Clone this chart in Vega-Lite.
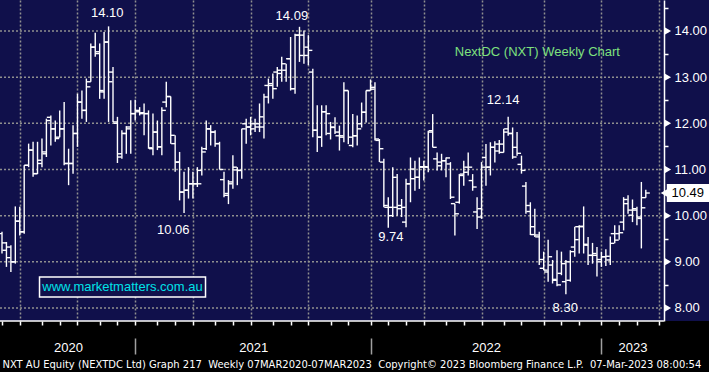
{
  "$schema": "https://vega.github.io/schema/vega-lite/v6.json",
  "width": 709,
  "height": 321,
  "autosize": {"type": "none"},
  "padding": {"left": 0, "top": 0, "right": 0, "bottom": 51},
  "background": "#000000",
  "config": {"view": {"fill": "#10104b", "stroke": null}},
  "datasets": {
    "ohlc": [
      {"d":"2020-05-29","o":9.61,"h":9.65,"l":9.18,"c":9.41},
      {"d":"2020-06-05","o":9.25,"h":9.43,"l":8.89,"c":9.09},
      {"d":"2020-06-12","o":9.32,"h":9.36,"l":8.78,"c":9.00},
      {"d":"2020-06-19","o":9.00,"h":10.20,"l":8.96,"c":9.88},
      {"d":"2020-06-26","o":9.88,"h":10.19,"l":9.57,"c":9.65},
      {"d":"2020-07-03","o":9.65,"h":11.09,"l":9.61,"c":11.09},
      {"d":"2020-07-10","o":11.09,"h":11.56,"l":11.05,"c":11.42},
      {"d":"2020-07-17","o":11.42,"h":11.60,"l":10.84,"c":10.91},
      {"d":"2020-07-24","o":10.91,"h":11.60,"l":10.90,"c":11.20},
      {"d":"2020-07-31","o":11.13,"h":11.67,"l":11.05,"c":11.38},
      {"d":"2020-08-07","o":11.34,"h":12.10,"l":11.27,"c":12.06},
      {"d":"2020-08-14","o":12.13,"h":12.17,"l":11.52,"c":11.88},
      {"d":"2020-08-21","o":11.88,"h":12.06,"l":11.60,"c":11.67},
      {"d":"2020-08-28","o":11.70,"h":12.28,"l":11.70,"c":11.88},
      {"d":"2020-09-04","o":11.88,"h":12.46,"l":11.09,"c":11.13},
      {"d":"2020-09-11","o":11.13,"h":11.45,"l":10.66,"c":11.13},
      {"d":"2020-09-18","o":11.13,"h":11.96,"l":10.91,"c":11.78},
      {"d":"2020-09-25","o":11.78,"h":12.64,"l":11.49,"c":12.46},
      {"d":"2020-10-02","o":12.46,"h":12.71,"l":12.10,"c":12.28},
      {"d":"2020-10-09","o":12.28,"h":12.97,"l":12.03,"c":12.79},
      {"d":"2020-10-16","o":12.90,"h":13.73,"l":12.90,"c":13.65},
      {"d":"2020-10-23","o":13.65,"h":13.96,"l":13.44,"c":13.51},
      {"d":"2020-10-30","o":13.55,"h":13.73,"l":12.53,"c":12.71},
      {"d":"2020-11-06","o":12.68,"h":13.98,"l":12.53,"c":13.76},
      {"d":"2020-11-13","o":13.76,"h":14.10,"l":12.03,"c":12.90},
      {"d":"2020-11-20","o":13.11,"h":13.22,"l":12.03,"c":12.03},
      {"d":"2020-11-27","o":12.00,"h":12.14,"l":11.14,"c":11.27},
      {"d":"2020-12-04","o":11.34,"h":11.85,"l":11.23,"c":11.78},
      {"d":"2020-12-11","o":11.78,"h":11.94,"l":11.34,"c":11.88},
      {"d":"2020-12-18","o":11.92,"h":12.50,"l":11.34,"c":12.21},
      {"d":"2020-12-25","o":12.21,"h":12.51,"l":12.06,"c":12.28},
      {"d":"2021-01-01","o":12.25,"h":12.35,"l":12.17,"c":12.21},
      {"d":"2021-01-08","o":12.23,"h":12.43,"l":11.74,"c":12.21},
      {"d":"2021-01-15","o":12.21,"h":12.28,"l":11.45,"c":11.47},
      {"d":"2021-01-22","o":11.45,"h":12.21,"l":11.31,"c":11.81},
      {"d":"2021-01-29","o":11.81,"h":12.06,"l":11.42,"c":11.49},
      {"d":"2021-02-05","o":11.49,"h":12.35,"l":11.31,"c":12.28},
      {"d":"2021-02-12","o":12.46,"h":12.90,"l":12.35,"c":12.58},
      {"d":"2021-02-19","o":12.58,"h":12.58,"l":11.56,"c":11.74},
      {"d":"2021-02-26","o":11.56,"h":11.74,"l":10.95,"c":11.16},
      {"d":"2021-03-05","o":11.16,"h":11.38,"l":10.33,"c":10.51},
      {"d":"2021-03-12","o":10.51,"h":10.95,"l":10.06,"c":10.55},
      {"d":"2021-03-19","o":10.55,"h":11.05,"l":10.37,"c":10.69},
      {"d":"2021-03-26","o":10.69,"h":10.95,"l":10.37,"c":10.69},
      {"d":"2021-04-02","o":10.69,"h":11.05,"l":10.62,"c":10.69},
      {"d":"2021-04-09","o":10.98,"h":11.49,"l":10.87,"c":11.38},
      {"d":"2021-04-16","o":11.45,"h":12.06,"l":11.42,"c":11.88},
      {"d":"2021-04-23","o":11.88,"h":11.96,"l":11.52,"c":11.81},
      {"d":"2021-04-30","o":11.81,"h":11.85,"l":11.49,"c":11.56},
      {"d":"2021-05-07","o":11.56,"h":11.60,"l":11.00,"c":11.00},
      {"d":"2021-05-14","o":10.78,"h":10.95,"l":10.40,"c":10.44},
      {"d":"2021-05-21","o":10.48,"h":10.77,"l":10.25,"c":10.69},
      {"d":"2021-05-28","o":10.73,"h":11.31,"l":10.58,"c":11.05},
      {"d":"2021-06-04","o":10.99,"h":11.05,"l":10.66,"c":10.98},
      {"d":"2021-06-11","o":10.98,"h":11.88,"l":10.80,"c":11.88},
      {"d":"2021-06-18","o":11.99,"h":12.10,"l":11.56,"c":11.92},
      {"d":"2021-06-25","o":11.92,"h":12.14,"l":11.74,"c":11.88},
      {"d":"2021-07-02","o":11.99,"h":12.10,"l":11.81,"c":11.92},
      {"d":"2021-07-09","o":11.99,"h":12.43,"l":11.81,"c":12.14},
      {"d":"2021-07-16","o":11.92,"h":12.64,"l":11.67,"c":12.57},
      {"d":"2021-07-23","o":12.82,"h":12.97,"l":12.43,"c":12.86},
      {"d":"2021-07-30","o":12.82,"h":13.08,"l":12.53,"c":12.75},
      {"d":"2021-08-06","o":13.11,"h":13.22,"l":12.79,"c":13.15},
      {"d":"2021-08-13","o":13.08,"h":13.44,"l":12.90,"c":13.29},
      {"d":"2021-08-20","o":13.15,"h":13.29,"l":12.90,"c":13.40},
      {"d":"2021-08-27","o":13.40,"h":13.87,"l":12.71,"c":12.75},
      {"d":"2021-09-03","o":12.75,"h":13.94,"l":12.64,"c":13.91},
      {"d":"2021-09-10","o":13.91,"h":14.09,"l":13.33,"c":13.47},
      {"d":"2021-09-17","o":13.91,"h":14.01,"l":13.29,"c":13.47},
      {"d":"2021-09-24","o":13.65,"h":13.91,"l":13.26,"c":13.58},
      {"d":"2021-10-01","o":13.11,"h":13.18,"l":11.70,"c":11.85},
      {"d":"2021-10-08","o":11.85,"h":12.39,"l":11.38,"c":11.70},
      {"d":"2021-10-15","o":11.70,"h":12.39,"l":11.49,"c":12.25},
      {"d":"2021-10-22","o":12.25,"h":12.39,"l":11.74,"c":12.21},
      {"d":"2021-10-29","o":11.78,"h":12.03,"l":11.65,"c":11.92},
      {"d":"2021-11-05","o":11.91,"h":12.13,"l":11.77,"c":11.81},
      {"d":"2021-11-12","o":11.73,"h":11.95,"l":11.41,"c":11.73},
      {"d":"2021-11-19","o":11.70,"h":12.89,"l":11.59,"c":12.71},
      {"d":"2021-11-26","o":12.71,"h":12.71,"l":11.55,"c":11.70},
      {"d":"2021-12-03","o":11.52,"h":12.20,"l":11.48,"c":11.73},
      {"d":"2021-12-10","o":11.73,"h":12.17,"l":11.52,"c":11.88},
      {"d":"2021-12-17","o":11.99,"h":12.45,"l":11.91,"c":12.24},
      {"d":"2021-12-24","o":12.24,"h":12.71,"l":12.02,"c":12.71},
      {"d":"2021-12-31","o":12.71,"h":12.95,"l":12.71,"c":12.74},
      {"d":"2022-01-07","o":12.78,"h":12.89,"l":11.63,"c":11.66},
      {"d":"2022-01-14","o":11.63,"h":11.66,"l":11.16,"c":11.45},
      {"d":"2022-01-21","o":11.16,"h":11.23,"l":10.18,"c":10.22},
      {"d":"2022-01-28","o":10.18,"h":10.40,"l":9.74,"c":10.00},
      {"d":"2022-02-04","o":10.18,"h":11.05,"l":9.97,"c":10.83},
      {"d":"2022-02-11","o":10.18,"h":10.90,"l":10.00,"c":10.15},
      {"d":"2022-02-18","o":10.22,"h":10.36,"l":9.97,"c":10.18},
      {"d":"2022-02-25","o":9.86,"h":10.80,"l":9.75,"c":10.69},
      {"d":"2022-03-04","o":10.69,"h":11.26,"l":10.29,"c":11.01},
      {"d":"2022-03-11","o":10.80,"h":11.19,"l":10.54,"c":10.83},
      {"d":"2022-03-18","o":10.83,"h":11.26,"l":10.58,"c":11.05},
      {"d":"2022-03-25","o":11.06,"h":11.19,"l":10.76,"c":11.06},
      {"d":"2022-04-01","o":11.05,"h":11.84,"l":10.94,"c":11.81},
      {"d":"2022-04-08","o":11.84,"h":12.20,"l":11.48,"c":11.48},
      {"d":"2022-04-15","o":11.23,"h":11.37,"l":10.98,"c":11.16},
      {"d":"2022-04-22","o":11.08,"h":11.34,"l":10.98,"c":11.19},
      {"d":"2022-04-29","o":11.19,"h":11.26,"l":10.83,"c":11.25},
      {"d":"2022-05-06","o":11.12,"h":11.16,"l":10.36,"c":10.40},
      {"d":"2022-05-13","o":10.26,"h":10.26,"l":9.57,"c":10.04},
      {"d":"2022-05-20","o":10.29,"h":10.90,"l":10.26,"c":10.87},
      {"d":"2022-05-27","o":10.90,"h":11.19,"l":10.65,"c":10.94},
      {"d":"2022-06-03","o":11.05,"h":11.37,"l":10.87,"c":11.05},
      {"d":"2022-06-10","o":10.76,"h":10.90,"l":10.54,"c":10.62},
      {"d":"2022-06-17","o":10.08,"h":10.40,"l":9.71,"c":9.97},
      {"d":"2022-06-24","o":10.15,"h":11.16,"l":9.93,"c":11.05},
      {"d":"2022-07-01","o":11.26,"h":11.55,"l":10.65,"c":11.05},
      {"d":"2022-07-08","o":11.05,"h":11.59,"l":10.87,"c":11.48},
      {"d":"2022-07-15","o":11.48,"h":11.61,"l":11.15,"c":11.40},
      {"d":"2022-07-22","o":11.55,"h":11.64,"l":11.34,"c":11.55},
      {"d":"2022-07-29","o":11.37,"h":11.88,"l":11.37,"c":11.81},
      {"d":"2022-08-05","o":11.88,"h":12.14,"l":11.73,"c":11.78},
      {"d":"2022-08-12","o":11.78,"h":11.91,"l":11.23,"c":11.27},
      {"d":"2022-08-19","o":11.48,"h":11.81,"l":11.30,"c":11.35},
      {"d":"2022-08-26","o":11.11,"h":11.30,"l":10.91,"c":10.98},
      {"d":"2022-09-02","o":10.64,"h":10.73,"l":10.04,"c":10.22},
      {"d":"2022-09-09","o":10.09,"h":10.29,"l":9.58,"c":9.59},
      {"d":"2022-09-16","o":9.76,"h":10.15,"l":9.54,"c":9.58},
      {"d":"2022-09-23","o":9.54,"h":9.65,"l":8.93,"c":9.05},
      {"d":"2022-09-30","o":8.86,"h":9.22,"l":8.82,"c":8.82},
      {"d":"2022-10-07","o":8.78,"h":9.48,"l":8.57,"c":9.11},
      {"d":"2022-10-14","o":8.93,"h":9.04,"l":8.53,"c":8.62},
      {"d":"2022-10-21","o":8.60,"h":9.25,"l":8.47,"c":8.50},
      {"d":"2022-10-28","o":8.75,"h":9.22,"l":8.71,"c":8.96},
      {"d":"2022-11-04","o":8.57,"h":9.04,"l":8.30,"c":9.00},
      {"d":"2022-11-11","o":8.60,"h":9.25,"l":8.57,"c":9.22},
      {"d":"2022-11-18","o":9.32,"h":9.76,"l":9.11,"c":9.48},
      {"d":"2022-11-25","o":9.76,"h":9.79,"l":9.18,"c":9.77},
      {"d":"2022-12-02","o":9.76,"h":10.20,"l":9.18,"c":9.38},
      {"d":"2022-12-09","o":9.36,"h":9.54,"l":8.93,"c":9.14},
      {"d":"2022-12-16","o":9.14,"h":9.41,"l":8.96,"c":9.18},
      {"d":"2022-12-23","o":9.14,"h":9.32,"l":8.68,"c":9.05},
      {"d":"2022-12-30","o":9.00,"h":9.22,"l":8.89,"c":9.11},
      {"d":"2023-01-06","o":9.11,"h":9.27,"l":8.91,"c":9.12},
      {"d":"2023-01-13","o":9.04,"h":9.55,"l":8.93,"c":9.40},
      {"d":"2023-01-20","o":9.61,"h":9.79,"l":9.40,"c":9.47},
      {"d":"2023-01-27","o":9.61,"h":9.79,"l":9.48,"c":9.63},
      {"d":"2023-02-03","o":9.86,"h":10.40,"l":9.68,"c":10.35},
      {"d":"2023-02-10","o":10.26,"h":10.44,"l":10.04,"c":10.12},
      {"d":"2023-02-17","o":10.01,"h":10.35,"l":9.86,"c":10.15},
      {"d":"2023-02-24","o":10.12,"h":10.19,"l":9.79,"c":9.97},
      {"d":"2023-03-03","o":9.94,"h":10.73,"l":9.29,"c":10.17},
      {"d":"2023-03-10","o":10.39,"h":10.56,"l":10.39,"c":10.49}
    ],
    "levels": [{"v":8},{"v":9},{"v":10},{"v":11},{"v":12},{"v":13},{"v":14}],
    "notes": [
      {"d":"2020-11-11","p":14.39,"t":"14.10"},
      {"d":"2021-08-29","p":14.32,"t":"14.09"},
      {"d":"2022-07-28","p":12.5,"t":"12.14"},
      {"d":"2021-02-23","p":9.69,"t":"10.06"},
      {"d":"2022-02-01","p":9.54,"t":"9.74"},
      {"d":"2022-11-03","p":8.0,"t":"8.30"}
    ],
    "heading": [{"d":"2022-09-20","p":13.55,"t":"NextDC (NXT) Weekly Chart"}],
    "site": [{"d":"2020-12-05","p":8.455,"t":"www.marketmatters.com.au"}],
    "last": [{"d":"2023-03-10","p":10.49,"t":"10.49"}]
  },
  "resolve": {"axis": {"x": "independent", "y": "independent"}},
  "layer": [
    {
      "data": {"name": "levels"},
      "mark": {"type": "rule", "color": "#8f8f8f", "strokeWidth": 1.5, "strokeDash": [2, 2]},
      "encoding": {
        "y": {"field": "v", "type": "quantitative", "scale": {"domain": [7.718, 14.671], "nice": false, "zero": false}, "axis": null},
        "x": {"datum": {"year":2020,"month":5,"date":25,"hours":20,"minutes":20,"utc":true}, "type": "temporal", "scale": {"type": "utc", "nice": false, "domain": [{"year":2020,"month":5,"date":25,"hours":20,"minutes":20,"utc":true},{"year":2023,"month":6,"date":17,"hours":15,"utc":true}]}, "axis": null},
        "x2": {"datum": {"year":2023,"month":4,"date":7,"hours":12,"utc":true}}
      }
    },
    {
      "data": {"name": "ohlc"},
      "mark": {"type": "rule", "color": "#ffffff", "strokeWidth": 1.4},
      "encoding": {
        "x": {"field": "d", "type": "temporal", "scale": {"type": "utc", "nice": false, "domain": [{"year":2020,"month":5,"date":25,"hours":20,"minutes":20,"utc":true},{"year":2023,"month":6,"date":17,"hours":15,"utc":true}]},
          "axis": {"orient": "bottom", "title": null, "domain": false, "grid": false, "labels": false, "ticks": true, "tickColor": "#ffffff", "tickSize": 4, "tickWidth": 1.5,
            "values": [
              {"year":2020,"month":5,"date":29,"utc":true},{"year":2020,"month":6,"date":26,"utc":true},{"year":2020,"month":7,"date":31,"utc":true},{"year":2020,"month":8,"date":28,"utc":true},{"year":2020,"month":9,"date":25,"utc":true},{"year":2020,"month":10,"date":30,"utc":true},{"year":2020,"month":11,"date":27,"utc":true},{"year":2020,"month":12,"date":25,"utc":true},
              {"year":2021,"month":1,"date":29,"utc":true},{"year":2021,"month":2,"date":26,"utc":true},{"year":2021,"month":3,"date":26,"utc":true},{"year":2021,"month":4,"date":30,"utc":true},{"year":2021,"month":5,"date":28,"utc":true},{"year":2021,"month":6,"date":25,"utc":true},{"year":2021,"month":7,"date":30,"utc":true},{"year":2021,"month":8,"date":27,"utc":true},{"year":2021,"month":9,"date":24,"utc":true},{"year":2021,"month":10,"date":29,"utc":true},{"year":2021,"month":11,"date":26,"utc":true},{"year":2021,"month":12,"date":31,"utc":true},
              {"year":2022,"month":1,"date":28,"utc":true},{"year":2022,"month":2,"date":25,"utc":true},{"year":2022,"month":3,"date":25,"utc":true},{"year":2022,"month":4,"date":29,"utc":true},{"year":2022,"month":5,"date":27,"utc":true},{"year":2022,"month":6,"date":24,"utc":true},{"year":2022,"month":7,"date":29,"utc":true},{"year":2022,"month":8,"date":26,"utc":true},{"year":2022,"month":9,"date":30,"utc":true},{"year":2022,"month":10,"date":28,"utc":true},{"year":2022,"month":11,"date":25,"utc":true},{"year":2022,"month":12,"date":30,"utc":true},
              {"year":2023,"month":1,"date":27,"utc":true},{"year":2023,"month":2,"date":24,"utc":true},{"year":2023,"month":3,"date":31,"utc":true}
            ]}},
        "y": {"field": "l", "type": "quantitative", "scale": {"domain": [7.718, 14.671], "nice": false, "zero": false},
          "axis": {"orient": "right", "offset": -45, "title": null, "grid": false, "domain": true, "domainColor": "#ffffff", "domainWidth": 1.5,
            "ticks": true, "tickColor": "#ffffff", "tickSize": 4, "tickWidth": 1.5,
            "values": [8, 8.5, 9, 9.5, 10, 10.5, 11, 11.5, 12, 12.5, 13, 13.5, 14, 14.5],
            "labelExpr": "datum.value % 1 === 0 ? format(datum.value, '.2f') : ''",
            "labelColor": "#ffffff", "labelFont": "Liberation Sans", "labelFontSize": 13, "labelPadding": 6, "labelOverlap": false, "labelFlush": false, "labelBound": false}},
        "y2": {"field": "h"}
      }
    },
    {
      "data": {"name": "ohlc"},
      "mark": {"type": "rule", "color": "#ffffff", "strokeWidth": 1.4, "x2Offset": -4},
      "encoding": {
        "x": {"field": "d", "type": "temporal", "scale": {"type": "utc", "nice": false, "domain": [{"year":2020,"month":5,"date":25,"hours":20,"minutes":20,"utc":true},{"year":2023,"month":6,"date":17,"hours":15,"utc":true}]},
          "axis": {"orient": "bottom", "title": null, "domain": false, "labels": false, "ticks": false, "grid": true, "gridColor": "#8f8f8f", "gridDash": [2, 2], "gridWidth": 1.5,
            "values": [
              {"year":2020,"month":6,"date":26,"utc":true},{"year":2020,"month":9,"date":25,"utc":true},{"year":2020,"month":12,"date":25,"utc":true},
              {"year":2021,"month":3,"date":26,"utc":true},{"year":2021,"month":6,"date":25,"utc":true},{"year":2021,"month":9,"date":24,"utc":true},{"year":2021,"month":12,"date":31,"utc":true},
              {"year":2022,"month":3,"date":25,"utc":true},{"year":2022,"month":6,"date":24,"utc":true},{"year":2022,"month":9,"date":30,"utc":true},{"year":2022,"month":12,"date":30,"utc":true},
              {"year":2023,"month":3,"date":31,"utc":true}
            ]}},
        "x2": {"field": "d"},
        "y": {"field": "o", "type": "quantitative", "scale": {"domain": [7.718, 14.671], "nice": false, "zero": false}, "axis": null}
      }
    },
    {
      "data": {"name": "ohlc"},
      "mark": {"type": "rule", "color": "#ffffff", "strokeWidth": 1.4, "x2Offset": 4},
      "encoding": {
        "x": {"field": "d", "type": "temporal", "scale": {"type": "utc", "nice": false, "domain": [{"year":2020,"month":5,"date":25,"hours":20,"minutes":20,"utc":true},{"year":2023,"month":6,"date":17,"hours":15,"utc":true}]},
          "axis": {"orient": "bottom", "domain": false, "grid": false, "ticks": false, "tickSize": 0,
            "values": [{"year":2020,"month":9,"date":10,"utc":true},{"year":2021,"month":6,"date":29,"utc":true},{"year":2022,"month":7,"date":1,"utc":true},{"year":2023,"month":2,"date":17,"utc":true}],
            "labelExpr": "utcFormat(datum.value, '%Y')", "labelColor": "#ffffff", "labelFont": "Liberation Sans", "labelFontSize": 13, "labelPadding": 26, "labelBaseline": "middle", "labelOverlap": false, "labelFlush": false,
            "title": "NXT AU Equity (NEXTDC Ltd) Graph 217\u00a0 Weekly 07MAR2020-07MAR2023\u00a0 Copyright\u00a9 2023 Bloomberg Finance L.P.\u00a0 07-Mar-2023 08:00:54",
            "titleX": 2, "titleY": 43, "titleAlign": "left", "titleBaseline": "middle", "titleColor": "#ffffff", "titleFont": "DejaVu Sans Condensed", "titleFontSize": 11.1, "titleFontWeight": "normal", "titleLimit": 708}},
        "x2": {"field": "d"},
        "y": {"field": "c", "type": "quantitative", "scale": {"domain": [7.718, 14.671], "nice": false, "zero": false}, "axis": null}
      }
    },
    {
      "data": {"name": "levels"},
      "mark": {"type": "point", "shape": "triangle-right", "filled": true, "color": "#ffffff", "opacity": 1, "size": 55, "xOffset": 4},
      "encoding": {
        "x": {"datum": {"year":2023,"month":4,"date":7,"hours":12,"utc":true}, "type": "temporal", "scale": {"type": "utc", "nice": false, "domain": [{"year":2020,"month":5,"date":25,"hours":20,"minutes":20,"utc":true},{"year":2023,"month":6,"date":17,"hours":15,"utc":true}]}, "axis": null},
        "y": {"field": "v", "type": "quantitative", "scale": {"domain": [7.718, 14.671], "nice": false, "zero": false}, "axis": null}
      }
    },
    {
      "data": {"name": "notes"},
      "mark": {"type": "text", "color": "#ffffff", "font": "Liberation Sans", "fontSize": 13, "align": "center", "baseline": "middle"},
      "encoding": {
        "x": {"field": "d", "type": "temporal", "scale": {"type": "utc", "nice": false, "domain": [{"year":2020,"month":5,"date":25,"hours":20,"minutes":20,"utc":true},{"year":2023,"month":6,"date":17,"hours":15,"utc":true}]},
          "axis": {"orient": "bottom", "offset": 17, "title": null, "domain": false, "grid": false, "labels": false, "ticks": true, "tickSize": 16, "tickColor": "#a0a0a0", "tickWidth": 1.5,
            "values": [{"year":2020,"month":12,"date":25,"utc":true},{"year":2021,"month":12,"date":31,"utc":true},{"year":2022,"month":12,"date":30,"utc":true}]}},
        "y": {"field": "p", "type": "quantitative", "scale": {"domain": [7.718, 14.671], "nice": false, "zero": false}, "axis": null},
        "text": {"field": "t"}
      }
    },
    {
      "data": {"name": "heading"},
      "mark": {"type": "text", "color": "#7ee07e", "font": "Liberation Sans", "fontSize": 13, "align": "center", "baseline": "middle"},
      "encoding": {
        "x": {"field": "d", "type": "temporal", "scale": {"type": "utc", "nice": false, "domain": [{"year":2020,"month":5,"date":25,"hours":20,"minutes":20,"utc":true},{"year":2023,"month":6,"date":17,"hours":15,"utc":true}]}, "axis": null},
        "y": {"field": "p", "type": "quantitative", "scale": {"domain": [7.718, 14.671], "nice": false, "zero": false}, "axis": null},
        "text": {"field": "t"}
      }
    },
    {
      "data": {"name": "site"},
      "mark": {"type": "rect", "fill": "#10104b", "stroke": "#ffffff", "strokeWidth": 1.5, "xOffset": -83, "x2Offset": 83, "yOffset": -10, "y2Offset": 10},
      "encoding": {
        "x": {"field": "d", "type": "temporal", "scale": {"type": "utc", "nice": false, "domain": [{"year":2020,"month":5,"date":25,"hours":20,"minutes":20,"utc":true},{"year":2023,"month":6,"date":17,"hours":15,"utc":true}]}, "axis": null},
        "x2": {"field": "d"},
        "y": {"field": "p", "type": "quantitative", "scale": {"domain": [7.718, 14.671], "nice": false, "zero": false}, "axis": null},
        "y2": {"field": "p"}
      }
    },
    {
      "data": {"name": "site"},
      "mark": {"type": "text", "color": "#00e2e8", "font": "Liberation Sans", "fontSize": 13, "align": "center", "baseline": "middle"},
      "encoding": {
        "x": {"field": "d", "type": "temporal", "scale": {"type": "utc", "nice": false, "domain": [{"year":2020,"month":5,"date":25,"hours":20,"minutes":20,"utc":true},{"year":2023,"month":6,"date":17,"hours":15,"utc":true}]}, "axis": null},
        "y": {"field": "p", "type": "quantitative", "scale": {"domain": [7.718, 14.671], "nice": false, "zero": false}, "axis": null},
        "text": {"field": "t"}
      }
    },
    {
      "data": {"name": "levels"},
      "transform": [{"filter": "datum.v === 8"}],
      "mark": {"type": "rule", "color": "#ffffff", "strokeWidth": 1.5},
      "encoding": {
        "y": {"datum": 7.718, "type": "quantitative", "scale": {"domain": [7.718, 14.671], "nice": false, "zero": false}, "axis": null},
        "x": {"datum": {"year":2020,"month":5,"date":25,"hours":20,"minutes":20,"utc":true}, "type": "temporal", "scale": {"type": "utc", "nice": false, "domain": [{"year":2020,"month":5,"date":25,"hours":20,"minutes":20,"utc":true},{"year":2023,"month":6,"date":17,"hours":15,"utc":true}]}, "axis": null},
        "x2": {"datum": {"year":2023,"month":4,"date":7,"hours":12,"utc":true}}
      }
    },
    {
      "data": {"name": "last"},
      "mark": {"type": "rect", "fill": "#ffffff", "xOffset": 21, "x2Offset": 64, "yOffset": -9, "y2Offset": 9},
      "encoding": {
        "x": {"field": "d", "type": "temporal", "scale": {"type": "utc", "nice": false, "domain": [{"year":2020,"month":5,"date":25,"hours":20,"minutes":20,"utc":true},{"year":2023,"month":6,"date":17,"hours":15,"utc":true}]}, "axis": null},
        "x2": {"field": "d"},
        "y": {"field": "p", "type": "quantitative", "scale": {"domain": [7.718, 14.671], "nice": false, "zero": false}, "axis": null},
        "y2": {"field": "p"}
      }
    },
    {
      "data": {"name": "last"},
      "mark": {"type": "point", "shape": "triangle-left", "filled": true, "color": "#ffffff", "opacity": 1, "size": 90, "xOffset": 19},
      "encoding": {
        "x": {"field": "d", "type": "temporal", "scale": {"type": "utc", "nice": false, "domain": [{"year":2020,"month":5,"date":25,"hours":20,"minutes":20,"utc":true},{"year":2023,"month":6,"date":17,"hours":15,"utc":true}]}, "axis": null},
        "y": {"field": "p", "type": "quantitative", "scale": {"domain": [7.718, 14.671], "nice": false, "zero": false}, "axis": null}
      }
    },
    {
      "data": {"name": "last"},
      "mark": {"type": "text", "color": "#000000", "font": "Liberation Sans", "fontSize": 13, "align": "center", "baseline": "middle", "dx": 42},
      "encoding": {
        "x": {"field": "d", "type": "temporal", "scale": {"type": "utc", "nice": false, "domain": [{"year":2020,"month":5,"date":25,"hours":20,"minutes":20,"utc":true},{"year":2023,"month":6,"date":17,"hours":15,"utc":true}]}, "axis": null},
        "y": {"field": "p", "type": "quantitative", "scale": {"domain": [7.718, 14.671], "nice": false, "zero": false}, "axis": null},
        "text": {"field": "t"}
      }
    }
  ]
}
